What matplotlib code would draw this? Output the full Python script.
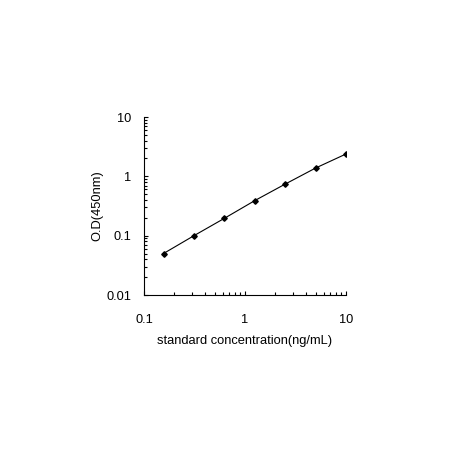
import numpy as np
from matplotlib import pyplot as plt

plt.rcParams['font.family'] = ['Liberation Sans', 'DejaVu Sans']

conc = [0.156, 0.3125, 0.625, 1.25, 2.5, 5, 10]
od = [0.05, 0.1, 0.196, 0.39, 0.74, 1.38, 2.38]

fig = plt.figure(figsize=(4.5, 4.5), dpi=100)
ax = fig.add_axes([144/450, 1-295/450, (346-144)/450, (295-117)/450])

ax.plot(conc, od, color='black', lw=0.8, marker='D', ms=2.8, mfc='black', mec='black')
ax.set_xscale('log')
ax.set_yscale('log')
ax.set_xlim(0.1, 10)
ax.set_ylim(0.01, 10)

ax.spines['top'].set_visible(False)
ax.spines['right'].set_visible(False)
ax.tick_params(which='both', direction='in', width=0.8)
ax.tick_params(which='major', length=3, labelsize=9.2)
ax.tick_params(axis='x', which='major', pad=14)
ax.tick_params(axis='y', which='major', pad=9)
ax.tick_params(which='minor', length=2)
ax.set_xticks([0.1, 1, 10])
ax.set_xticklabels(['0.1', '1', '10'])
ax.set_yticks([0.01, 0.1, 1, 10])
ax.set_yticklabels(['0.01', '0.1', '1', '10'])

ax.set_xlabel('standard concentration(ng/mL)', fontsize=9.3, labelpad=6)
ax.set_ylabel('O.D(450nm)', fontsize=9.3, labelpad=2)

fig.savefig('out.png', dpi=100)
